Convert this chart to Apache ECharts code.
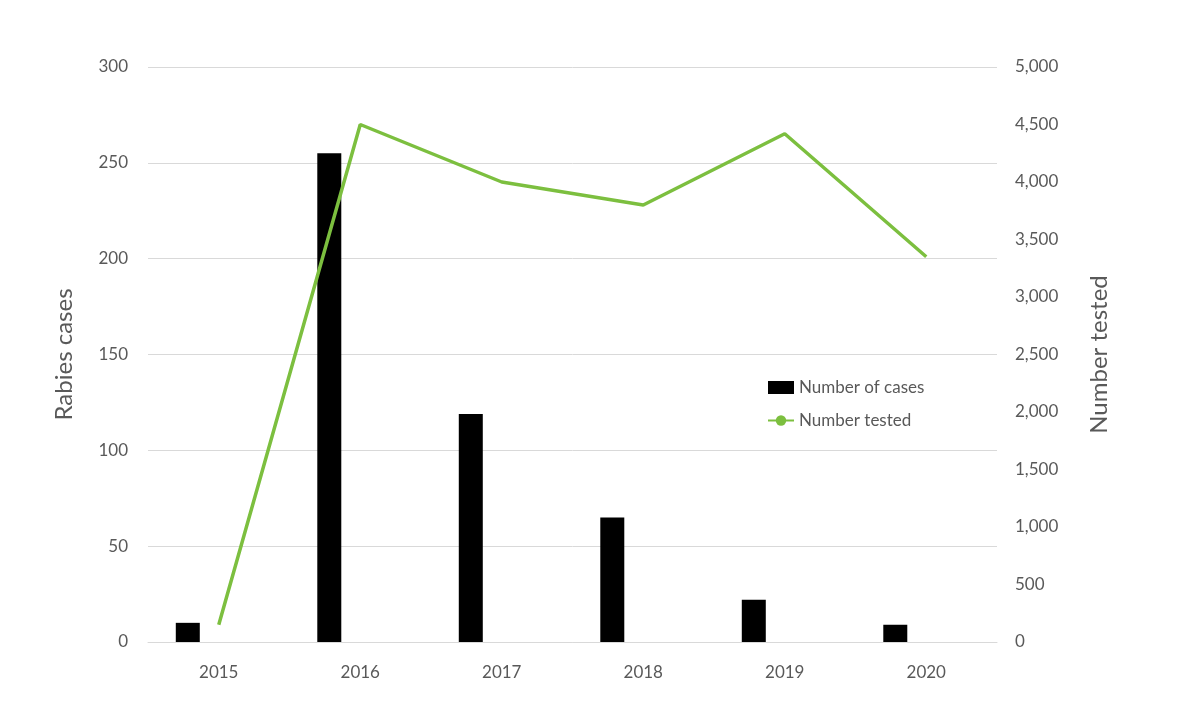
<!DOCTYPE html>
<html><head><meta charset="utf-8">
<script src="https://cdn.jsdelivr.net/npm/echarts@6/dist/echarts.min.js"></script>
<style>html,body{margin:0;padding:0;background:#fff}#c{width:1190px;height:713px}</style>
</head><body><div id="c"></div>
<script>
const years = ['2015','2016','2017','2018','2019','2020'];
const cases = [10, 255, 119, 65, 22, 9];
const tested = [150, 4500, 4000, 3800, 4420, 3350];
const chart = echarts.init(document.getElementById('c'));
const txt = {color:'#595959', fontFamily:'Lato', fontSize:17};
chart.setOption({
  animation:false,
  textStyle:{fontFamily:'Lato'},
  grid:{left:148, right:193, top:67, bottom:71},
  legend:{orient:'vertical', left:762, top:374, itemGap:16, itemWidth:26, itemHeight:13,
    textStyle:{color:'#595959', fontSize:17, fontFamily:'Lato'},
    data:[{name:'Number of cases', icon:'rect'}, {name:'Number tested'}]},
  xAxis:{type:'category', data:years, axisTick:{show:false},
    axisLine:{lineStyle:{color:'#d9d9d9'}}, axisLabel:Object.assign({margin:22}, txt)},
  yAxis:[
    {type:'value', min:0, max:300, interval:50, name:'Rabies cases', nameLocation:'middle', nameGap:72,
     nameTextStyle:{color:'#595959', fontSize:24, fontFamily:'Lato'},
     axisLabel:Object.assign({margin:20}, txt), splitLine:{lineStyle:{color:'#d9d9d9'}}},
    {type:'value', min:0, max:5000, interval:500, name:'Number tested', nameLocation:'middle', nameGap:90,
     nameRotate:90, nameTextStyle:{color:'#595959', fontSize:24, fontFamily:'Lato'},
     axisLabel:Object.assign({margin:18}, txt), splitLine:{show:false}}
  ],
  series:[
    {name:'Number of cases', type:'bar', data:cases, barWidth:24, barGap:'158%', itemStyle:{color:'#000'}},
    {name:'_pad', type:'bar', data:[null,null,null,null,null,null], barWidth:24},
    {name:'Number tested', type:'line', yAxisIndex:1, data:tested, symbol:'none',
     lineStyle:{color:'#7cbf3f', width:3.5}, itemStyle:{color:'#7cbf3f'}}
  ]
});
</script></body></html>
